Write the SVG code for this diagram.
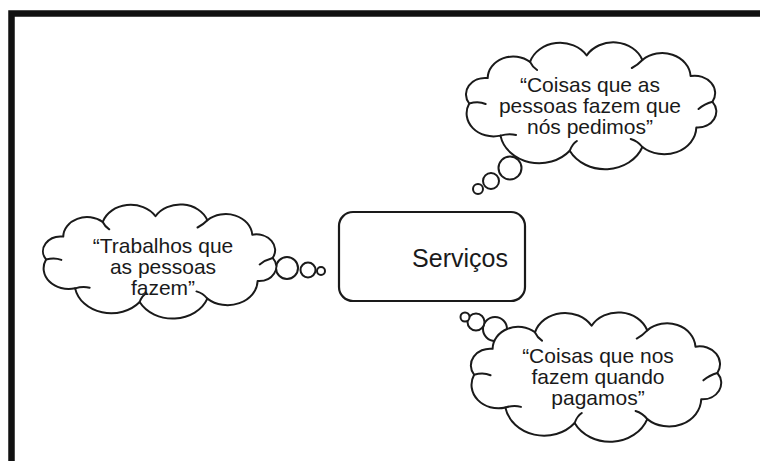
<svg xmlns="http://www.w3.org/2000/svg" width="760" height="461" viewBox="0 0 760 461">
<style>
.ol{fill:#fff;stroke:#1a1a1a;stroke-width:2;vector-effect:non-scaling-stroke;stroke-linejoin:round}
.in{fill:none;stroke:#1a1a1a;stroke-width:2;vector-effect:non-scaling-stroke;stroke-linecap:round}
.bub{fill:#fff;stroke:#1a1a1a;stroke-width:2}
.t{font-family:"Liberation Sans",Arial,sans-serif;font-size:21px;fill:#1a1a1a;text-anchor:middle}
</style>
<defs>
<g id="cloud">
<path class="ol" d="M16,62.5 A16.4,16.4 0 0 1 31.8,37.1 A21.8,21.8 0 0 1 68,20.9 A26.8,26.8 0 0 1 116.4,14.5 A26.3,26.3 0 0 1 164,19 A24.3,24.3 0 0 1 205.2,35 A17.5,17.5 0 0 1 223.9,60.8 A16,16 0 0 1 210.1,86.5 A27.5,27.5 0 0 1 164,106 A34,34 0 0 1 101.9,109.8 A33.6,33.6 0 0 1 42.7,94.6 A23,23 0 0 1 16,62.5 Z"/>
<path class="in" d="M16,62.5 Q24,60 30,63 M68,20.9 Q70,26 74,29 M164,19 Q160,24 155,27 M223.9,60.8 Q217,63 212,68 M164,106 Q160,100 154,98 M101.9,109.8 Q104,103 108,100 M42.7,94.6 Q50,92 56,94"/>
</g>
</defs>
<rect x="11.5" y="13.5" width="800" height="500" fill="#fff" stroke="#111" stroke-width="6.5"/>
<g id="connectors">
<circle class="bub" cx="287" cy="268" r="11"/>
<circle class="bub" cx="308" cy="270" r="7.5"/>
<circle class="bub" cx="321" cy="271" r="4"/>
<circle class="bub" cx="510" cy="168" r="11.5"/>
<circle class="bub" cx="491" cy="181" r="8"/>
<circle class="bub" cx="478" cy="189" r="5"/>
<circle class="bub" cx="495" cy="329" r="12"/>
<circle class="bub" cx="476" cy="322" r="8.5"/>
<circle class="bub" cx="465" cy="317" r="4.5"/>
</g>
<g id="services">
<rect x="339" y="212" width="186" height="89" rx="14" fill="#fff" stroke="#1a1a1a" stroke-width="2.2"/>
<text x="460" y="267" class="t" style="font-size:25px">Serviços</text>
</g>
<g id="cloud-left">
<use href="#cloud" transform="translate(28.6,203.2) scale(1.09,0.9)"/>
<text class="t" x="163" y="253">“Trabalhos que</text>
<text class="t" x="163" y="274">as pessoas</text>
<text class="t" x="163" y="295">fazem”</text>
</g>
<g id="cloud-top">
<use href="#cloud" transform="translate(450.5,41) scale(1.17,1)"/>
<text class="t" x="590" y="92">“Coisas que as</text>
<text class="t" x="590" y="113">pessoas fazem que</text>
<text class="t" x="590" y="134">nós pedimos”</text>
</g>
<g id="cloud-bottom">
<use href="#cloud" transform="translate(455.4,311) scale(1.17,1.02)"/>
<text class="t" x="598" y="363">“Coisas que nos</text>
<text class="t" x="598" y="384">fazem quando</text>
<text class="t" x="598" y="405">pagamos”</text>
</g>
</svg>
